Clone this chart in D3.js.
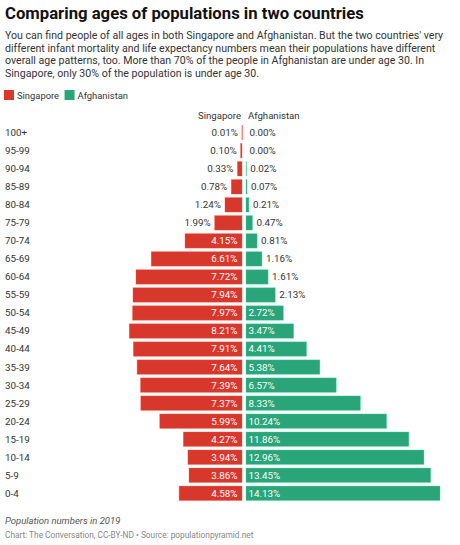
<!DOCTYPE html>
<html><head><meta charset="utf-8">
<script src="https://cdn.jsdelivr.net/npm/d3@7"></script>
<style>
body{margin:0;background:#fff;font-family:Roboto,"Noto Sans",sans-serif;}
svg{display:block}
</style></head><body>
<svg id="c" width="460" height="545"></svg>
<script>
const ages = ["100+","95-99","90-94","85-89","80-84","75-79","70-74","65-69","60-64","55-59","50-54","45-49","40-44","35-39","30-34","25-29","20-24","15-19","10-14","5-9","0-4"];
const singapore = [0.01,0.10,0.33,0.78,1.24,1.99,4.15,6.61,7.72,7.94,7.97,8.21,7.91,7.64,7.39,7.37,5.99,4.27,3.94,3.86,4.58];
const afghanistan = [0.00,0.00,0.02,0.07,0.21,0.47,0.81,1.16,1.61,2.13,2.72,3.47,4.41,5.38,6.57,8.33,10.24,11.86,12.96,13.45,14.13];
const seriesNames = ["Singapore","Afghanistan"];
const colors = ["#d8382c","#2aa57a"];
const title = "Comparing ages of populations in two countries";
const desc = ["You can find people of all ages in both Singapore and Afghanistan. But the two countries' very",
"different infant mortality and life expectancy numbers mean their populations have different",
"overall age patterns, too. More than 70% of the people in Afghanistan are under age 30. In",
"Singapore, only 30% of the population is under age 30."];
const note = "Population numbers in 2019";
const source = "Chart: The Conversation, CC-BY-ND \u2022 Source: populationpyramid.net";

const svg = d3.select("#c");
const txt = "#333";

svg.append("text").attr("x",5).attr("y",19).attr("font-size",16.7).attr("font-weight",700).attr("fill","#111").text(title);
desc.forEach((l,i)=>svg.append("text").attr("x",5).attr("y",39+i*12.6).attr("font-size",10.6).attr("fill",txt).text(l));

// legend
const lg = svg.append("g").attr("transform","translate(4,90)");
let lx=0;
seriesNames.forEach((n,i)=>{
  lg.append("rect").attr("x",lx).attr("y",0).attr("width",10).attr("height",10).attr("fill",colors[i]);
  const t = lg.append("text").attr("x",lx+13).attr("y",8.8).attr("font-size",9.4).attr("fill",txt).text(n);
  lx += 13 + t.node().getComputedTextLength() + 5.5;
});

const zeroL = 242, zeroR = 246;
const max = 14.13;
const xL = d3.scaleLinear().domain([0,max]).range([zeroL, zeroL-194]);
const xR = d3.scaleLinear().domain([0,max]).range([zeroR, zeroR+194]);
const y = d3.scaleBand().domain(ages).range([123.7,502.3]).paddingInner(0.2).paddingOuter(0.1);

svg.append("text").attr("x",zeroL-1).attr("y",118.5).attr("text-anchor","end").attr("font-size",9.6).attr("fill",txt).text(seriesNames[0]);
svg.append("text").attr("x",zeroR+2).attr("y",118.5).attr("font-size",9.6).attr("fill",txt).text(seriesNames[1]);

const rows = svg.append("g");
ages.forEach((a,i)=>{
  const yc = y(a)+y.bandwidth()/2;
  rows.append("text").attr("x",5).attr("y",yc).attr("dy","0.35em").attr("font-size",9.8).attr("fill",txt).text(a);
  // Singapore
  const sv = singapore[i];
  const sx = xL(sv), sw = zeroL - sx;
  if (sv>0) rows.append("rect").attr("x",sx).attr("y",y(a)).attr("width",Math.max(sw,0.5)).attr("height",y.bandwidth())
     .attr("fill",colors[0]).attr("stroke",d3.color(colors[0]).brighter(0.8)).attr("stroke-opacity",0.5).attr("stroke-width",0.7);
  const st = rows.append("text").attr("y",yc).attr("dy","0.35em").attr("font-size",9.8).attr("text-anchor","end").text(sv.toFixed(2)+"%");
  const sl = st.node().getComputedTextLength();
  if (sw > sl + 8) st.attr("x",zeroL-4.5).attr("fill","#fff");
  else st.attr("x",sx-4).attr("fill",txt);
  // Afghanistan
  const av = afghanistan[i];
  const ax = xR(av), aw = ax - zeroR;
  if (av>0) rows.append("rect").attr("x",zeroR).attr("y",y(a)).attr("width",Math.max(aw,0.5)).attr("height",y.bandwidth())
     .attr("fill",colors[1]).attr("stroke",d3.color(colors[1]).brighter(0.8)).attr("stroke-opacity",0.5).attr("stroke-width",0.7);
  const at = rows.append("text").attr("y",yc).attr("dy","0.35em").attr("font-size",9.8).text(av.toFixed(2)+"%");
  const al = at.node().getComputedTextLength();
  if (aw > al + 6) at.attr("x",zeroR+2.5).attr("fill","#fff");
  else at.attr("x",ax+(av>0?4:3.5)).attr("fill",txt);
});

svg.append("text").attr("x",5).attr("y",524).attr("font-size",9.5).attr("font-style","italic").attr("fill","#555").text(note);
svg.append("text").attr("x",5).attr("y",538).attr("font-size",8.3).attr("fill","#888").text(source);
</script>
</body></html>
